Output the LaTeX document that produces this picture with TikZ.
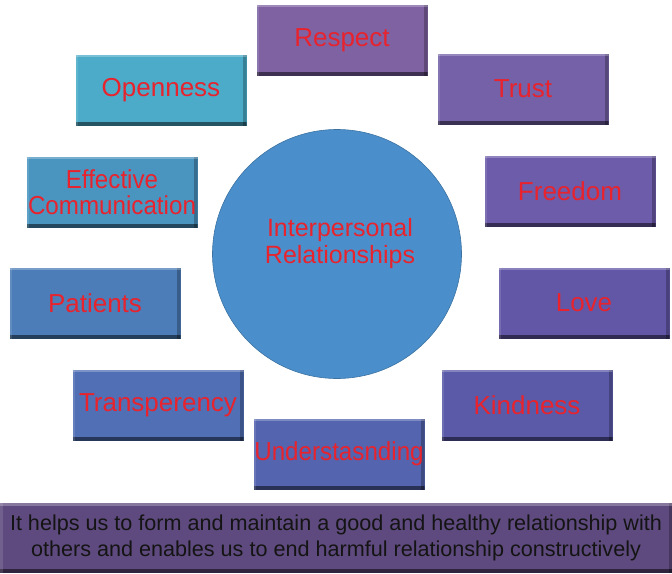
\documentclass[tikz,border=0pt]{standalone}
\usepackage{fontspec}
\setmainfont{Liberation Sans}
\newfontfamily\narrowsans[FakeStretch=0.93]{Liberation Sans}
\usepackage{xcolor}
\usepackage{tikz}
\definecolor{respectc}{HTML}{7E62A2}
\definecolor{trustc}{HTML}{7461A7}
\definecolor{freedomc}{HTML}{6D5CA9}
\definecolor{lovec}{HTML}{6257A6}
\definecolor{kindc}{HTML}{5A5AA9}
\definecolor{underc}{HTML}{5464AE}
\definecolor{transc}{HTML}{506FB4}
\definecolor{patc}{HTML}{4C7DB8}
\definecolor{commc}{HTML}{4A94C0}
\definecolor{openc}{HTML}{4BABC8}
\definecolor{hubc}{HTML}{4A8FCB}
\definecolor{barc}{HTML}{5E4A7E}
\definecolor{labelred}{HTML}{E8232D}

\begin{document}
\begin{tikzpicture}[
    x=1pt, y=-1pt,
    bevel/.style={path picture={
        \fill[black, opacity=0.5] (path picture bounding box.south west)
          rectangle ([yshift=4pt]path picture bounding box.south east);
        \fill[black, opacity=0.25] ([xshift=-3.5pt]path picture bounding box.south east)
          rectangle (path picture bounding box.north east);
        \fill[white, opacity=0.25] ([yshift=-2.5pt]path picture bounding box.north west)
          rectangle (path picture bounding box.north east);
        \fill[white, opacity=0.12] (path picture bounding box.south west)
          rectangle ([xshift=2.5pt]path picture bounding box.north west);
      }},
    quality/.style={bevel, minimum width=171pt, minimum height=71pt,
                    inner sep=0pt, align=center, text=labelred,
                    font=\fontsize{26}{26}\selectfont},
    hub/.style={circle, fill=hubc, draw=hubc!80!black, line width=0.6pt,
                minimum size=249pt, align=center, text=labelred,
                font=\fontsize{25}{27}\selectfont},
    note/.style={bevel, minimum width=672pt, minimum height=70pt,
                 inner sep=0pt, align=center, text=black!92,
                 font=\fontsize{21.6}{26}\selectfont}
  ]
    \useasboundingbox (0,0) rectangle (672,573);

    \node[hub] (rel) at (337,254) {};
    \node[text=labelred, align=center, font=\fontsize{25}{27}\selectfont]
      (reltext) at (340,244) {Interpersonal\\Relationships};

    \node[quality, fill=respectc] (respect) at (342,40) {Respect};
    \node[quality, fill=trustc] (trust) at (523,89) {Trust};
    \node[quality, fill=freedomc] (freedom) at (570,191) {Freedom};
    \node[quality, fill=lovec] (love) at (584,303) {Love};
    \node[quality, fill=kindc] (kind) at (527,405) {Kindness};
    \node[quality, fill=underc] (under) at (339,454) {\narrowsans Understasnding};
    \node[quality, fill=transc] (trans) at (158,405) {Transperency};
    \node[quality, fill=patc] (patients) at (95,303) {Patients};
    \node[quality, fill=commc] (comm) at (112,192)
      {\narrowsans Effective\\\narrowsans Communication};
    \node[quality, fill=openc] (open) at (161,90) {Openness};

    \node[note, fill=barc] (summary) at (336,538)
      {It helps us to form and maintain a good and healthy relationship with\\
       others and enables us to end harmful relationship constructively};
  \end{tikzpicture}
\end{document}
